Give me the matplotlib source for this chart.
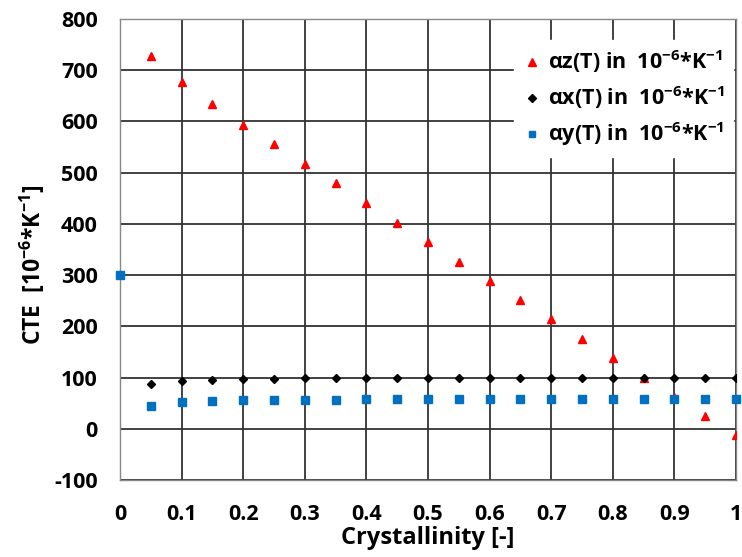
import numpy as np
import matplotlib.pyplot as plt

plt.rcParams['font.family'] = ['Open Sans', 'DejaVu Sans']
plt.rcParams['font.weight'] = 'bold'
plt.rcParams['axes.unicode_minus'] = False
plt.rcParams['mathtext.fontset'] = 'custom'
plt.rcParams['mathtext.rm'] = 'Open Sans:bold'
plt.rcParams['mathtext.it'] = 'Open Sans:bold'
plt.rcParams['mathtext.bf'] = 'Open Sans:bold'
plt.rcParams['mathtext.default'] = 'bf'

# data
crystallinity = [0.05, 0.1, 0.15, 0.2, 0.25, 0.3, 0.35, 0.4, 0.45, 0.5,
                 0.55, 0.6, 0.65, 0.7, 0.75, 0.8, 0.85, 0.9, 0.95, 1.0]
alpha_z = [727, 676, 634, 594, 555, 517, 479, 440, 402, 364,
           326, 289, 251, 214, 176, 138, 100, 63, 25, -12]
alpha_x = [87, 93, 95.5, 97, 98, 98.5, 99, 99, 99.5, 99.5,
           99.5, 99.5, 99.5, 99.5, 99.5, 99.5, 99.5, 99.5, 99.5, 99.5]
crystallinity_y = [0.0] + crystallinity
alpha_y = [300, 45, 51.5, 54.5, 55.5, 56.5, 56.5, 56.5, 57.5, 58, 57.5,
           57.5, 57.5, 57.5, 57.5, 57.5, 58, 58, 58.5, 58.5, 58.5]

unit = r'$\mathregular{10^{-6}}$*K$\mathregular{^{-1}}$'
labels = [r'αz(T) in  ' + unit, r'αx(T) in  ' + unit, r'αy(T) in  ' + unit]

fig = plt.figure(figsize=(7.42, 5.57), dpi=100)
ax = fig.add_axes([0.1617, 0.138, 0.8303, 0.828])

ax.plot(crystallinity, alpha_z, linestyle='none', marker='^', color='#ff0000',
        markersize=6, label=labels[0], zorder=3)
ax.plot(crystallinity, alpha_x, linestyle='none', marker='D', color='black',
        markersize=4, label=labels[1], zorder=4)
ax.plot(crystallinity_y, alpha_y, linestyle='none', marker='s', color='#0070c0',
        markersize=5.3, label=labels[2], zorder=5, clip_on=False)

ax.set_xlim(0, 1)
ax.set_ylim(-100, 800)
ax.set_xticks(np.arange(0, 1.01, 0.1))
ax.set_xticklabels(['0', '0.1', '0.2', '0.3', '0.4', '0.5', '0.6', '0.7', '0.8', '0.9', '1'])
ax.set_yticks(np.arange(-100, 801, 100))
ax.tick_params(length=0, labelsize=15.5)
ax.tick_params(axis='y', pad=16)
ax.tick_params(axis='x', pad=17)
for lab in ax.get_xticklabels() + ax.get_yticklabels():
    lab.set_fontweight('bold')

ax.grid(True, color='#333333', linewidth=1.3)
ax.set_axisbelow(True)
for s in ax.spines.values():
    s.set_color('#888888')
    s.set_linewidth(1.0)

ax.set_xlabel('Crystallinity [-]', fontsize=17, fontweight='bold', labelpad=1)
ax.set_ylabel(r'CTE  [$\mathregular{10^{-6}}$*K$\mathregular{^{-1}}$]', fontsize=16.5,
              fontweight='bold')
ax.yaxis.set_label_coords(-0.118, 0.466)

leg = ax.legend(loc='upper right', bbox_to_anchor=(0.995, 0.955), fontsize=15.5,
                frameon=True, fancybox=False, framealpha=1, edgecolor='white',
                labelspacing=0.42, handletextpad=0.3, handlelength=0.9,
                borderaxespad=0.0, borderpad=0.4, markerscale=0.9)
for t in leg.get_texts():
    t.set_fontweight('bold')

fig.savefig('out.png', dpi=100)
